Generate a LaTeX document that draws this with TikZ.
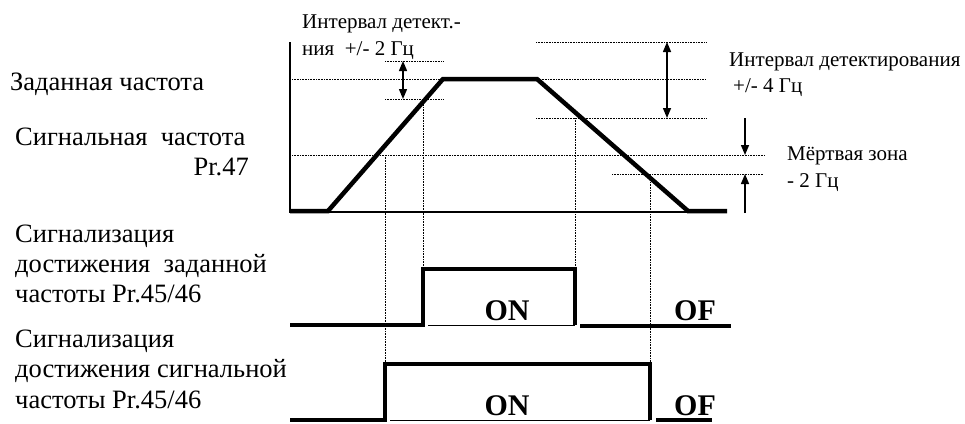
\documentclass[tikz,border=0pt]{standalone}
\usepackage{fontspec}
\setmainfont{Liberation Serif}
\usetikzlibrary{arrows.meta}
\begin{document}
\begin{tikzpicture}[x=1pt,y=-1pt,
  lbl/.style={inner sep=0pt,anchor=base west,font=\fontsize{26.5}{30}\selectfont},
  slbl/.style={inner sep=0pt,anchor=base west,font=\fontsize{21}{25}\selectfont},
  onlbl/.style={inner sep=0pt,anchor=base,font=\fontsize{30}{34}\selectfont\bfseries},
  thick line/.style={line width=4.5pt,line join=miter},
  axis line/.style={line width=2.2pt},
  thin line/.style={line width=1.6pt},
  dotline/.style={line width=0.7pt,dash pattern=on 0.8pt off 0.8pt},
  dimarrow/.style={line width=1.4pt,-{Triangle[length=10pt,width=8pt]}},
  dimarrows/.style={line width=1.4pt,{Triangle[length=10pt,width=8pt]}-{Triangle[length=10pt,width=8pt]}}
]
\useasboundingbox (0,0) rectangle (965,423);

% ---------- labels ----------
\node[lbl] (setf) at (10,90) {Заданная частота};
\node[lbl] (sigf) at (15,145) {Сигнальная~~частота};
\node[lbl,anchor=base east] (pr47) at (249,175) {Pr.47};
\node[slbl] (int2a) at (302,28) {Интервал детект.-};
\node[slbl] (int2b) at (302,55) {ния~~+/- 2 Гц};
\node[slbl] (int4a) at (729,66) {Интервал детектирования};
\node[slbl] (int4b) at (733,92) {+/- 4 Гц};
\node[slbl] (deada) at (787,160) {Мёртвая зона};
\node[slbl] (deadb) at (787,187) {- 2 Гц};
\node[lbl] (s1a) at (15,242) {Сигнализация};
\node[lbl] (s1b) at (15,272) {достижения~~заданной};
\node[lbl] (s1c) at (15,302) {частоты Pr.45/46};
\node[lbl] (s2a) at (15,347) {Сигнализация};
\node[lbl] (s2b) at (15,377) {достижения сигнальной};
\node[lbl] (s2c) at (15,408) {частоты Pr.45/46};
\node[onlbl] (on1) at (507,320) {ON};
\node[onlbl] (of1) at (695,320) {OF};
\node[onlbl] (on2) at (507,415) {ON};
\node[onlbl] (of2) at (695,415) {OF};

% ---------- dotted guide lines ----------
\draw[dotline] (536,42) -- (706,42);
\draw[dotline] (385,61) -- (443,61);
\draw[dotline] (292,79) -- (706,79);
\draw[dotline] (385,99) -- (443,99);
\draw[dotline] (536,118) -- (706,118);
\draw[dotline] (292,155) -- (765,155);
\draw[dotline] (612,174) -- (763,174);
\draw[dotline] (385,155) -- (385,364);
\draw[dotline] (423,99) -- (423,269);
\draw[dotline] (575,118) -- (575,269);
\draw[dotline] (650,174) -- (650,364);

% ---------- axes ----------
\draw[axis line] (290,42) -- (290,212) -- (688,212);

% ---------- frequency curve ----------
\draw[thick line] (290,211) -- (328,211) -- (443,79) -- (537,79) -- (688,211) -- (727,211);

% ---------- dimension arrows ----------
\coordinate (a1t) at (403,61); \coordinate (a1b) at (403,99);
\draw[dimarrows] (a1t) -- (a1b);
\coordinate (a2t) at (667,42); \coordinate (a2b) at (667,118);
\draw[dimarrows] (a2t) -- (a2b);
\coordinate (d1s) at (745,118); \coordinate (d1e) at (745,155);
\draw[dimarrow] (d1s) -- (d1e);
\coordinate (d2s) at (745,213); \coordinate (d2e) at (745,174);
\draw[dimarrow] (d2s) -- (d2e);

% ---------- signal 1 ----------
\draw[thick line] (290,325) -- (423,325) -- (423,269) -- (575,269) -- (575,325);
\draw[thin line] (428,325.5) -- (575,325.5);
\draw[thick line] (580,326) -- (731,326);

% ---------- signal 2 ----------
\draw[thick line] (290,420) -- (385,420) -- (385,364) -- (650,364) -- (650,420);
\draw[thin line] (390,420.5) -- (650,420.5);
\draw[thick line] (656,420) -- (712,420);
\end{tikzpicture}
\end{document}
